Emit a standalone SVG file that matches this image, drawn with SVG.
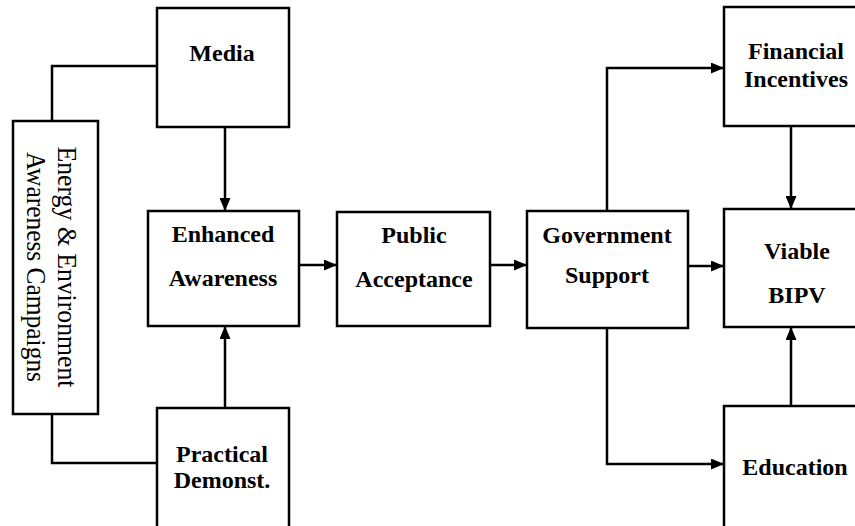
<svg xmlns="http://www.w3.org/2000/svg" width="855" height="526" viewBox="0 0 855 526">
<style>
.box{fill:#fff;stroke:#000;stroke-width:2.5}
.lbl{font-family:"Liberation Serif","Times New Roman",serif;font-weight:bold;font-size:24px;text-anchor:middle;fill:#000}
.vlbl{font-family:"Liberation Serif","Times New Roman",serif;font-size:28px;text-anchor:middle;fill:#000}
.con{fill:none;stroke:#000;stroke-width:2.5}
</style>
<defs>
<marker id="ah" markerUnits="userSpaceOnUse" markerWidth="13" markerHeight="11" refX="13" refY="5.5" orient="auto">
<path d="M0,0 L13,5.5 L0,11 z" fill="#000"/>
</marker>
</defs>
<rect width="855" height="526" fill="#fff"/>
<g id="connectors">
<polyline class="con" points="52,121 52,66 157,66"/>
<polyline class="con" points="52,414 52,463 157,463"/>
<line class="con" x1="225" y1="127" x2="225" y2="211" marker-end="url(#ah)"/>
<line class="con" x1="225" y1="408" x2="225" y2="326" marker-end="url(#ah)"/>
<line class="con" x1="299" y1="265" x2="337" y2="265" marker-end="url(#ah)"/>
<line class="con" x1="490" y1="265" x2="527" y2="265" marker-end="url(#ah)"/>
<line class="con" x1="688" y1="266" x2="724" y2="266" marker-end="url(#ah)"/>
<polyline class="con" points="607,211 607,68 724,68" marker-end="url(#ah)"/>
<polyline class="con" points="607,328 607,464 724,464" marker-end="url(#ah)"/>
<line class="con" x1="791" y1="126" x2="791" y2="209" marker-end="url(#ah)"/>
<line class="con" x1="791" y1="406" x2="791" y2="327" marker-end="url(#ah)"/>
</g>
<g id="campaigns">
<rect class="box" x="13" y="121" width="85" height="293"/>
<g transform="translate(58,267) rotate(90)">
<text class="vlbl" x="0" y="0" textLength="241" lengthAdjust="spacingAndGlyphs">Energy &amp; Environment</text>
<text class="vlbl" x="0" y="31" textLength="230" lengthAdjust="spacingAndGlyphs">Awareness Campaigns</text>
</g>
</g>
<g id="media">
<rect class="box" x="157" y="8" width="132" height="119"/>
<text class="lbl" x="222" y="61">Media</text>
</g>
<g id="enhanced">
<rect class="box" x="148" y="211" width="151" height="115"/>
<text class="lbl" x="223" y="242">Enhanced</text>
<text class="lbl" x="223" y="286">Awareness</text>
</g>
<g id="practical">
<rect class="box" x="157" y="408" width="132" height="130"/>
<text class="lbl" x="222" y="462">Practical</text>
<text class="lbl" x="222" y="488">Demonst.</text>
</g>
<g id="public">
<rect class="box" x="337" y="212" width="153" height="114"/>
<text class="lbl" x="414" y="243">Public</text>
<text class="lbl" x="414" y="287">Acceptance</text>
</g>
<g id="government">
<rect class="box" x="527" y="211" width="161" height="117"/>
<text class="lbl" x="607" y="243">Government</text>
<text class="lbl" x="607" y="283">Support</text>
</g>
<g id="financial">
<rect class="box" x="724" y="7" width="150" height="119"/>
<text class="lbl" x="796" y="59">Financial</text>
<text class="lbl" x="796" y="87">Incentives</text>
</g>
<g id="viable">
<rect class="box" x="724" y="209" width="150" height="118"/>
<text class="lbl" x="797" y="259">Viable</text>
<text class="lbl" x="797" y="303">BIPV</text>
</g>
<g id="education">
<rect class="box" x="724" y="406" width="150" height="140"/>
<text class="lbl" x="795" y="475">Education</text>
</g>
</svg>
